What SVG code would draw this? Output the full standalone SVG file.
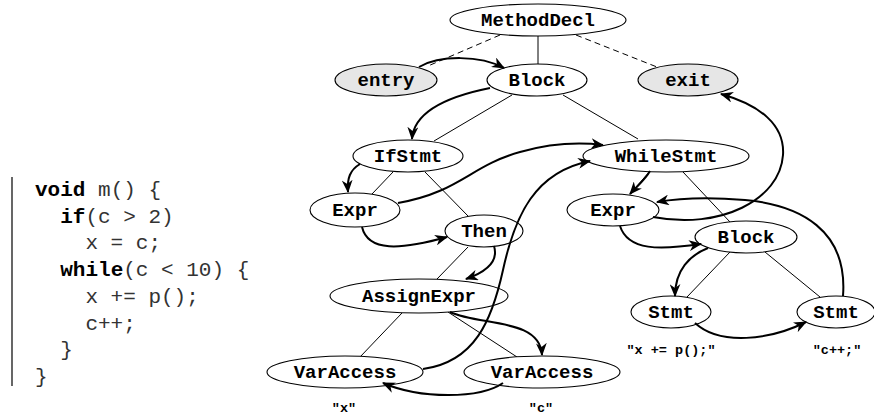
<svg xmlns="http://www.w3.org/2000/svg" width="874" height="416" viewBox="0 0 874 416">
<style>
.n ellipse{fill:#fff;stroke:#000;stroke-width:1.1}
.n.g ellipse{fill:#e6e6e6}
.n text{font-family:"Liberation Mono","Courier New",monospace;font-weight:bold;font-size:19px;text-anchor:middle;fill:#000}
.t{stroke:#000;stroke-width:1;fill:none}
.d{stroke-dasharray:6,4}
.f{stroke:#000;stroke-width:2;fill:none;marker-end:url(#ah)}
.code{font-family:"Liberation Mono","Courier New",monospace;font-size:21px;fill:#333}
.code .k{font-weight:bold;fill:#000}
.lbl{font-family:"Liberation Mono","Courier New",monospace;font-weight:bold;font-size:13.5px;text-anchor:middle;fill:#000}
</style>
<defs>
<marker id="ah" viewBox="0 0 12 10" refX="11" refY="5" markerWidth="13" markerHeight="11" markerUnits="userSpaceOnUse" orient="auto">
<path d="M0,0 L12,5 L0,10 L3.5,5 z" fill="#000"/>
</marker>
</defs>
<g id="code">
<line x1="12" y1="177" x2="12" y2="386" stroke="#000" stroke-width="1.2"/>
<text class="code" xml:space="preserve"><tspan x="35" y="196"><tspan class="k">void</tspan> m() {</tspan><tspan x="35" y="222.7">  <tspan class="k">if</tspan>(c &gt; 2)</tspan><tspan x="35" y="249.4">    x = c;</tspan><tspan x="35" y="276">  <tspan class="k">while</tspan>(c &lt; 10) {</tspan><tspan x="35" y="302.8">    x += p();</tspan><tspan x="35" y="329.5">    c++;</tspan><tspan x="35" y="356">  }</tspan><tspan x="35" y="383">}</tspan></text>
</g>
<g id="tree-edges">
<line class="t" x1="538" y1="36" x2="538" y2="64"/>
<line class="t d" x1="500" y1="35" x2="428" y2="66"/>
<line class="t d" x1="576" y1="35" x2="657" y2="67"/>
<line class="t" x1="512" y1="95" x2="434" y2="141"/>
<line class="t" x1="563" y1="95" x2="638" y2="139"/>
<line class="t" x1="393" y1="172" x2="372" y2="194"/>
<line class="t" x1="425" y1="172" x2="468" y2="216"/>
<line class="t" x1="468" y1="247" x2="437" y2="279"/>
<line class="t" x1="402" y1="313" x2="360" y2="357"/>
<line class="t" x1="448" y1="312" x2="517" y2="357"/>
<line class="t" x1="650" y1="171" x2="630" y2="194"/>
<line class="t" x1="683" y1="172" x2="730" y2="222"/>
<line class="t" x1="730" y1="252" x2="687" y2="297"/>
<line class="t" x1="765" y1="252" x2="820" y2="297"/>
</g>
<g id="MethodDecl" class="n"><ellipse cx="538" cy="20" rx="88" ry="16"/><text x="538" y="26">MethodDecl</text></g>
<g id="entry" class="n g"><ellipse cx="386" cy="80" rx="51" ry="16"/><text x="386" y="86">entry</text></g>
<g id="Block1" class="n"><ellipse cx="537" cy="80" rx="50" ry="16"/><text x="537" y="86">Block</text></g>
<g id="exit" class="n g"><ellipse cx="688" cy="80" rx="50" ry="16"/><text x="688" y="86">exit</text></g>
<g id="IfStmt" class="n"><ellipse cx="408" cy="156" rx="55" ry="16"/><text x="408" y="162">IfStmt</text></g>
<g id="WhileStmt" class="n"><ellipse cx="666" cy="156" rx="83" ry="16"/><text x="666" y="162">WhileStmt</text></g>
<g id="Expr1" class="n"><ellipse cx="355" cy="210" rx="45" ry="17"/><text x="355" y="216">Expr</text></g>
<g id="Then" class="n"><ellipse cx="484" cy="231" rx="39" ry="16"/><text x="484" y="237">Then</text></g>
<g id="Expr2" class="n"><ellipse cx="613" cy="210" rx="46" ry="16"/><text x="613" y="216">Expr</text></g>
<g id="Block2" class="n"><ellipse cx="746" cy="237" rx="51" ry="16"/><text x="746" y="243">Block</text></g>
<g id="AssignExpr" class="n"><ellipse cx="419" cy="296" rx="89" ry="17"/><text x="419" y="302">AssignExpr</text></g>
<g id="Stmt1" class="n"><ellipse cx="671" cy="312" rx="40" ry="16"/><text x="671" y="318">Stmt</text></g>
<g id="Stmt2" class="n"><ellipse cx="836" cy="312" rx="39" ry="16"/><text x="836" y="318">Stmt</text></g>
<g id="VarAccess1" class="n"><ellipse cx="345" cy="372" rx="78" ry="16"/><text x="345" y="378">VarAccess</text></g>
<g id="VarAccess2" class="n"><ellipse cx="542" cy="372" rx="78" ry="16"/><text x="542" y="378">VarAccess</text></g>
<g id="labels">
<text class="lbl" x="671" y="354">"x += p();"</text>
<text class="lbl" x="837" y="354">"c++;"</text>
<text class="lbl" x="344" y="412">"x"</text>
<text class="lbl" x="541" y="412">"c"</text>
</g>
<g id="flow-edges">
<path class="f" d="M419,67 C440,55 480,55 504,68"/>
<path class="f" d="M490,88 C450,96 414,110 412,139"/>
<path class="f" d="M360,164 C350,170 347,178 348,192"/>
<path class="f" d="M398,203 C460,192 470,166 520,152 C552,143 578,142 603,145"/>
<path class="f" d="M423,369 C475,362 492,320 503,270 C515,215 535,172 590,161"/>
<path class="f" d="M362,227 C368,252 400,250 447,237"/>
<path class="f" d="M494,246 C499,262 486,272 466,279"/>
<path class="f" d="M450,312 C480,326 540,318 542,355"/>
<path class="f" d="M503,383 C480,399 420,399 383,383"/>
<path class="f" d="M650,171 C645,180 637,186 630,194"/>
<path class="f" d="M620,226 C628,251 660,250 701,244"/>
<path class="f" d="M708,248 C690,255 675,270 675,296"/>
<path class="f" d="M695,323 C720,346 770,340 806,322"/>
<path class="f" d="M843,296 C848,230 800,205 745,200 C710,197 680,198 657,202"/>
<path class="f" d="M653,217 C720,230 780,200 783,155 C785,125 760,105 721,94"/>
</g>
</svg>
